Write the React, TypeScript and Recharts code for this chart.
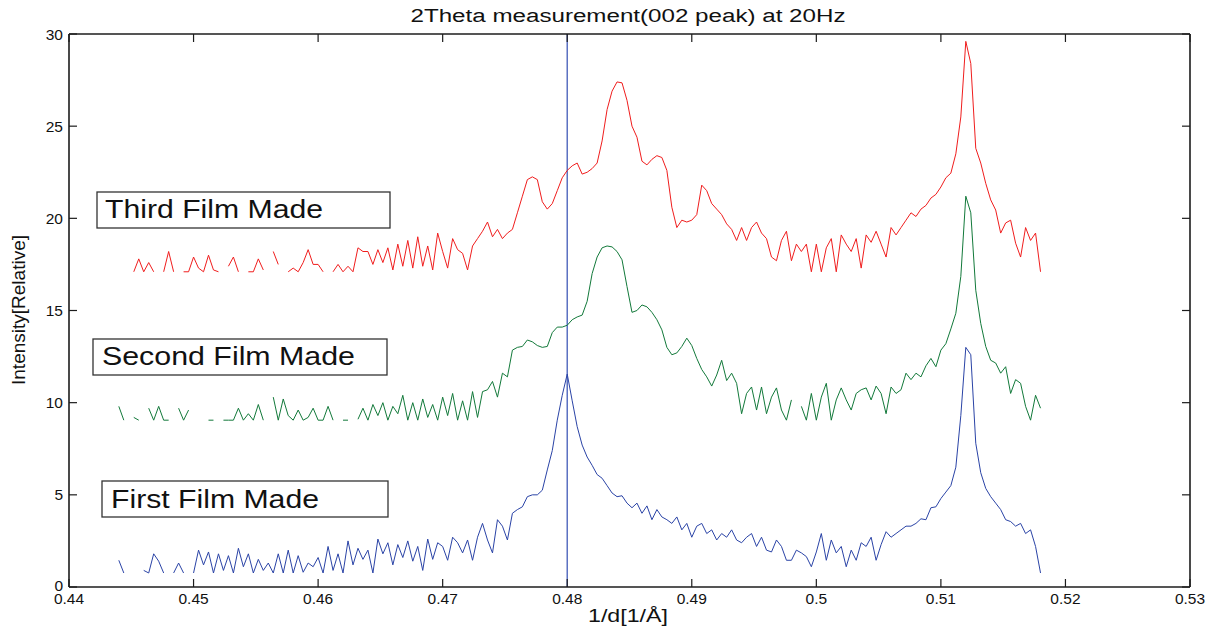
import React from 'react';
import { LineChart, Line, XAxis, YAxis, ReferenceLine } from 'recharts';

// sampling grid of the scan (1/d), one point every 0.0004 from 0.444
const X_START = 0.444;
const X_STEP = 0.0004;
const N = null;

const THIRD_FILM = [
  17.1, N, N, 17.1, 17.8, 17.1, 17.6, 17.1, N, 17.1,
  18.2, 17.1, N, 17.1, 17.1, 17.9, 17.3, 17.1, 18.0, 17.2,
  17.1, N, 17.4, 17.9, 17.1, N, 17.1, 17.1, 17.8, 17.2,
  N, 18.2, 17.5, N, 17.1, 17.3, 17.1, 17.6, 18.3, 17.5,
  17.5, 17.1, N, 17.1, 17.5, 17.1, 17.4, 17.1, 18.4, 18.2,
  18.2, 17.5, 18.3, 17.6, 18.4, 17.2, 18.6, 17.4, 18.8, 17.3,
  19.0, 17.4, 18.5, 17.2, 19.2, 18.2, 17.3, 18.9, 18.3, 18.1,
  17.2, 18.5, 18.9, 19.3, 19.8, 19.0, 19.4, 18.9, 19.2, 19.4,
  20.3, 21.2, 22.1, 22.25, 22.1, 20.9, 20.5, 20.8, 21.5, 22.2,
  22.6, 22.85, 23.0, 22.4, 22.5, 22.7, 23.0, 24.2, 25.9, 26.9,
  27.4, 27.35, 26.4, 25.0, 24.4, 23.1, 22.9, 23.2, 23.4, 23.3,
  22.6, 20.6, 19.5, 19.9, 19.8, 19.9, 20.2, 21.8, 21.5, 20.8,
  20.5, 20.2, 19.7, 19.4, 18.8, 19.5, 18.8, 19.5, 19.8, 19.2,
  18.9, 17.9, 17.7, 18.8, 19.3, 17.7, 18.6, 18.2, 18.6, 17.1,
  18.6, 17.1, 18.4, 18.9, 17.1, 19.1, 18.6, 18.2, 18.9, 17.3,
  19.1, 18.7, 19.3, 18.6, 17.9, 19.5, 19.1, 19.5, 19.9, 20.3,
  20.1, 20.5, 20.7, 21.1, 21.3, 21.7, 22.2, 22.45, 23.5, 25.5,
  29.6, 28.4, 23.8, 23.0, 21.9, 21.0, 20.45, 19.2, 19.75, 19.9,
  18.65, 17.9, 19.5, 18.8, 19.2, 17.1,
];

const SECOND_FILM = [
  9.8, 9.05, N, 9.2, 9.05, N, 9.7, 9.05, 9.8, 9.05,
  9.05, N, 9.7, 9.05, 9.6, N, 9.05, N, 9.05, 9.05,
  N, 9.05, 9.05, 9.05, 9.7, 9.05, 9.4, 9.05, 9.9, 9.05,
  N, 10.3, 9.05, 10.2, 9.3, 9.05, 9.6, 9.05, 9.2, 9.7,
  9.05, 9.05, 9.8, 9.05, N, 9.05, 9.05, N, 9.1, 9.7,
  9.05, 9.9, 9.3, 10.0, 9.05, 9.8, 9.4, 10.4, 9.05, 10.0,
  9.05, 10.2, 9.2, 9.9, 9.05, 10.3, 9.3, 10.5, 9.05, 10.1,
  9.05, 10.6, 9.2, 10.6, 10.7, 11.15, 10.3, 11.6, 11.4, 12.85,
  13.0, 13.05, 13.4, 13.3, 13.1, 13.0, 13.05, 13.8, 14.1, 14.1,
  14.2, 14.5, 14.65, 14.75, 15.5, 17.0, 17.9, 18.4, 18.5, 18.45,
  18.2, 17.75, 16.3, 14.9, 15.0, 15.3, 15.2, 14.9, 14.5, 13.95,
  13.0, 12.6, 12.7, 13.05, 13.5, 13.1, 12.4, 11.8, 11.4, 10.9,
  11.5, 12.3, 11.2, 11.6, 11.05, 9.4, 10.5, 10.85, 9.6, 10.85,
  9.4, 10.3, 10.8, 9.6, 9.05, 10.15, N, 9.8, 9.05, 10.5,
  9.05, 10.3, 11.05, 9.05, 10.15, 10.8, 10.15, 9.6, 10.5, 10.7,
  10.8, 10.15, 10.9, 10.5, 9.4, 10.85, 10.5, 10.7, 11.6, 11.25,
  11.6, 11.4, 12.0, 12.4, 11.95, 12.85, 13.2, 14.0, 14.85, 16.85,
  21.2, 20.3, 16.1, 14.3, 13.05, 12.3, 12.15, 11.6, 11.95, 10.5,
  11.25, 11.05, 9.8, 9.05, 10.4, 9.7,
];

const FIRST_FILM = [
  1.45, 0.76, N, 0.76, N, 0.9, 0.76, 1.8, 1.4, 0.76,
  N, 0.76, 1.3, 0.76, N, 0.76, 2.0, 1.2, 1.9, 0.76,
  1.8, 0.9, 1.7, 0.76, 2.1, 1.1, 1.8, 0.76, 1.5, 0.9,
  1.3, 0.76, 1.8, 0.76, 2.0, 0.76, 1.7, 0.8, 1.3, 1.1,
  1.6, 0.76, 2.2, 0.9, 1.8, 0.76, 2.5, 1.2, 2.1, 1.5,
  2.0, 0.76, 2.6, 1.8, 2.4, 1.2, 2.3, 1.6, 2.5, 1.4,
  2.2, 0.9, 2.6, 1.5, 2.4, 2.2, 1.45, 2.7, 2.4, 1.85,
  2.55, 1.45, 2.7, 3.45, 2.55, 1.85, 3.65, 3.3, 2.55, 4.0,
  4.2, 4.35, 4.9, 5.0, 5.0, 5.25, 6.35, 7.4, 9.05, 10.4,
  11.55, 10.1, 8.7, 7.7, 7.05, 6.6, 6.1, 5.9, 5.5, 5.1,
  4.9, 4.95, 4.55, 4.3, 4.55, 4.0, 4.4, 3.65, 4.2, 3.8,
  3.65, 3.45, 3.8, 3.1, 3.45, 2.7, 3.3, 3.45, 2.9, 3.1,
  2.55, 2.9, 2.7, 3.1, 2.55, 2.4, 2.7, 2.9, 2.2, 2.7,
  2.0, 1.9, 2.55, 2.2, 1.45, 1.45, 2.0, 1.85, 1.65, 1.1,
  1.9, 2.9, 1.45, 2.55, 1.85, 2.2, 1.1, 2.0, 1.45, 2.4,
  2.2, 2.7, 1.45, 2.3, 3.0, 2.7, 2.9, 3.1, 3.3, 3.3,
  3.45, 3.7, 3.65, 4.3, 4.35, 4.8, 5.15, 5.5, 6.5, 9.3,
  13.0, 12.6, 7.8, 6.2, 5.35, 4.9, 4.55, 4.2, 3.65, 3.55,
  3.3, 3.45, 2.9, 3.1, 2.2, 0.76,
];

const X_TICKS = [0.44, 0.45, 0.46, 0.47, 0.48, 0.49, 0.5, 0.51, 0.52, 0.53];
const Y_TICKS = [0, 5, 10, 15, 20, 25, 30];
const MARKER_X = 0.48;

const TITLE = '2Theta measurement(002 peak) at 20Hz';
const X_LABEL = '1/d[1/Å]';
const Y_LABEL = 'Intensity[Relative]';
const SERIES_LABELS = ['Third Film Made', 'Second Film Made', 'First Film Made'];

const data = THIRD_FILM.map((_, i) => ({
  x: Number((X_START + X_STEP * i).toFixed(4)),
  third: THIRD_FILM[i],
  second: SECOND_FILM[i],
  first: FIRST_FILM[i],
}));

const FONT = '"Liberation Sans", Arial, Helvetica, sans-serif';
const AXIS = '#1c1c1c';
const fmtX = (v: number) => String(Number(v.toFixed(2)));

const BottomTick = (p: any) => (
  <g>
    <line x1={p.x} y1={p.y} x2={p.x} y2={p.y - 8} stroke={AXIS} strokeWidth={1.2} />
    <text x={p.x} y={p.y + 16.5} textAnchor="middle" fontSize={15.5} fontFamily={FONT} fill="#111">
      {fmtX(p.payload.value)}
    </text>
  </g>
);
const TopTick = (p: any) => (
  <line x1={p.x} y1={p.y} x2={p.x} y2={p.y + 8} stroke={AXIS} strokeWidth={1.2} />
);
const LeftTick = (p: any) => (
  <g>
    <line x1={p.x} y1={p.y} x2={p.x + 8} y2={p.y} stroke={AXIS} strokeWidth={1.2} />
    <text x={p.x - 6} y={p.y + (p.payload.value === 0 ? 4 : 5.5)} textAnchor="end" fontSize={15.5} fontFamily={FONT} fill="#111">
      {p.payload.value}
    </text>
  </g>
);
const RightTick = (p: any) => (
  <line x1={p.x} y1={p.y} x2={p.x - 8} y2={p.y} stroke={AXIS} strokeWidth={1.2} />
);

const boxes = [
  { label: SERIES_LABELS[0], bx: 97, by: 192, bw: 293, bh: 36, tx: 105, ty: 218, tl: 218 },
  { label: SERIES_LABELS[1], bx: 93, by: 339, bw: 294, bh: 36, tx: 102, ty: 365, tl: 253 },
  { label: SERIES_LABELS[2], bx: 102, by: 481, bw: 286, bh: 36, tx: 111, ty: 508, tl: 208 },
];

export default function App() {
  const W = 1219;
  const H = 629;
  return (
    <div style={{ position: 'relative', width: W, height: H, background: '#fff' }}>
      <style>{'body{margin:0;background:#fff}'}</style>
      <LineChart width={W} height={H} data={data} margin={{ top: 33, right: 28, bottom: 0, left: 0 }}>
        <XAxis
          dataKey="x"
          type="number"
          domain={[0.44, 0.53]}
          ticks={X_TICKS}
          interval={0}
          allowDataOverflow
          height={42}
          tickSize={0}
          tickMargin={0}
          tick={(p: any) => <BottomTick {...p} />}
          axisLine={{ stroke: AXIS, strokeWidth: 1.6 }}
        />
        <XAxis
          xAxisId="top"
          dataKey="x"
          orientation="top"
          type="number"
          domain={[0.44, 0.53]}
          ticks={X_TICKS}
          interval={0}
          allowDataOverflow
          height={1}
          tickSize={0}
          tickMargin={0}
          tick={(p: any) => <TopTick {...p} />}
          axisLine={{ stroke: AXIS, strokeWidth: 1.6 }}
        />
        <YAxis
          type="number"
          domain={[0, 30]}
          ticks={Y_TICKS}
          interval={0}
          allowDataOverflow
          width={69}
          tickSize={0}
          tickMargin={0}
          tick={(p: any) => <LeftTick {...p} />}
          axisLine={{ stroke: AXIS, strokeWidth: 1.6 }}
        />
        <YAxis
          yAxisId="right"
          orientation="right"
          type="number"
          domain={[0, 30]}
          ticks={Y_TICKS}
          interval={0}
          allowDataOverflow
          width={1}
          tickSize={0}
          tickMargin={0}
          tick={(p: any) => <RightTick {...p} />}
          axisLine={{ stroke: AXIS, strokeWidth: 1.6 }}
        />
        <ReferenceLine x={MARKER_X} stroke="#4f66bd" strokeWidth={1.4} />
        <Line
          dataKey="third"
          xAxisId="top"
          yAxisId="right"
          stroke="#f01d1d"
          strokeWidth={1}
          dot={false}
          activeDot={false}
          isAnimationActive={false}
        />
        <Line dataKey="second" stroke="#12793a" strokeWidth={1} dot={false} activeDot={false} isAnimationActive={false} />
        <Line dataKey="first" stroke="#2a43a6" strokeWidth={1} dot={false} activeDot={false} isAnimationActive={false} />
      </LineChart>
      <svg
        width={W}
        height={H}
        style={{ position: 'absolute', left: 0, top: 0, pointerEvents: 'none' }}
        fontFamily={FONT}
      >
        <text x={628} y={22} textAnchor="middle" fontSize={18} fill="#111" textLength={435} lengthAdjust="spacingAndGlyphs">
          {TITLE}
        </text>
        <text x={628} y={622} textAnchor="middle" fontSize={17.5} fill="#111" textLength={80} lengthAdjust="spacingAndGlyphs">
          {X_LABEL}
        </text>
        <text
          x={0}
          y={0}
          transform="translate(25,310) rotate(-90)"
          textAnchor="middle"
          fontSize={17.5}
          fill="#111"
          textLength={150}
          lengthAdjust="spacingAndGlyphs"
        >
          {Y_LABEL}
        </text>
        {boxes.map((b) => (
          <g key={b.label}>
            <rect x={b.bx} y={b.by} width={b.bw} height={b.bh} fill="#fff" stroke="#333" strokeWidth={1.3} />
            <text x={b.tx} y={b.ty} fontSize={25} fill="#111" textLength={b.tl} lengthAdjust="spacingAndGlyphs">
              {b.label}
            </text>
          </g>
        ))}
      </svg>
    </div>
  );
}
